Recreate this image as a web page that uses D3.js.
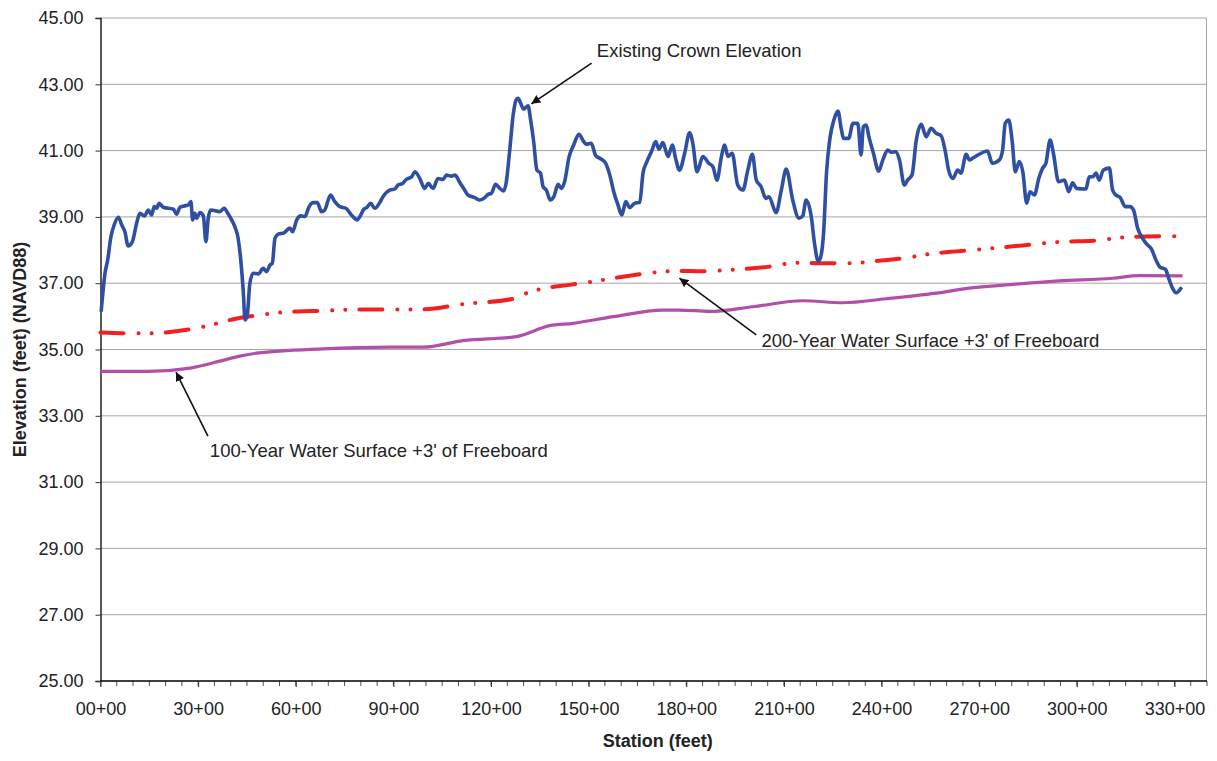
<!DOCTYPE html>
<meta charset="utf-8">
<style>
    body { margin: 0; background: #fff; }
    svg { display: block; font-family: "Liberation Sans", Arial, sans-serif; }
    .grid line { stroke: #a6a6a6; stroke-width: 1px; }
    .tick text { font-size: 18px; fill: #222; }
    .axis-title { font-size: 18px; font-weight: bold; fill: #222; }
    .note { font-size: 18.5px; fill: #222; }
</style>
<body>
<script src="https://cdn.jsdelivr.net/npm/d3@7"></script>
<script>
// station in hundreds of feet (NN+00), elevation in feet NAVD88
var crownStation = [0.2, 1.4, 2.2, 3.2, 4.2, 5.5, 6.5, 7.5, 8.5, 9.8, 11.1, 12.1, 13.5, 14.7, 15.7, 16.5, 17.3, 18.0, 19.3, 22.4,
    23.4, 24.4, 25.7, 27.0, 27.8, 28.3, 29.0, 29.5, 30.6, 31.6, 32.4, 33.1, 33.9, 36.7, 38.0, 39.1, 40.3, 41.3, 42.3, 43.1,
    43.9, 44.4, 45.1, 45.9, 46.9, 48.5, 50.0, 51.0, 52.1, 52.8, 53.6, 54.6, 56.4, 58.2, 59.0, 60.3, 61.5, 62.8, 64.1, 65.3,
    66.6, 67.9, 68.9, 70.7, 72.0, 73.5, 75.4, 77.1, 78.9, 79.7, 80.9, 81.9, 83.0, 84.3, 85.8, 86.8, 88.9, 90.4, 91.4, 92.8,
    94.0, 95.6, 96.6, 98.1, 99.6, 100.7, 102.2, 103.7, 105.3, 106.3, 107.8, 108.9, 110.4, 111.9, 112.9, 115.0, 116.5, 118.1, 119.1, 120.1,
    121.4, 122.7, 123.9, 124.7, 125.7, 126.8, 127.6, 128.3, 129.1, 130.0, 130.9, 131.4, 132.1, 133.1, 134.1, 135.2, 136.0, 137.0, 138.2, 139.3,
    140.6, 141.6, 142.6, 144.0, 145.4, 147.0, 148.5, 149.3, 150.8, 152.2, 153.4, 155.2, 156.5, 157.7, 159.0, 160.2, 161.4, 162.6, 164.1, 165.7,
    166.7, 167.9, 169.3, 170.6, 171.6, 172.8, 174.4, 175.7, 176.7, 177.9, 179.5, 181.0, 182.0, 183.3, 185.1, 186.9, 188.2, 189.4, 190.8, 191.8,
    192.8, 194.1, 195.8, 197.4, 198.9, 200.3, 201.5, 203.0, 204.4, 205.4, 207.6, 209.2, 210.7, 212.7, 214.6, 215.8, 216.8, 218.4, 219.4, 220.5,
    221.2, 222.2, 223.1, 224.0, 225.5, 226.6, 227.6, 228.3, 229.9, 231.2, 232.7, 233.7, 234.4, 235.3, 236.1, 237.5, 239.1, 240.4, 241.9, 243.0,
    244.3, 245.5, 247.0, 248.0, 249.4, 250.6, 252.2, 253.7, 255.2, 256.8, 258.3, 259.6, 260.6, 261.9, 263.4, 264.4, 266.0, 267.0, 268.0, 272.6,
    274.0, 276.2, 277.2, 278.0, 279.1, 280.1, 281.1, 282.3, 283.4, 284.6, 285.6, 287.0, 288.3, 289.5, 290.5, 291.8, 292.8, 294.4, 296.2, 297.5,
    298.7, 299.9, 302.8, 303.8, 304.9, 305.9, 306.9, 308.1, 310.0, 311.0, 312.0, 313.3, 314.9, 316.3, 317.4, 318.7, 320.2, 321.3, 323.1, 324.3,
    325.6, 327.2, 328.4, 329.4, 330.5, 332.2];
var crownElev = [36.14, 37.31, 37.70, 38.40, 38.76, 38.99, 38.76, 38.55, 38.12, 38.25, 38.81, 39.11, 39.03, 39.21, 39.06, 39.31, 39.26, 39.41, 39.29, 39.23,
    39.08, 39.29, 39.33, 39.36, 39.46, 38.91, 39.11, 38.96, 39.13, 39.03, 38.25, 38.96, 39.21, 39.16, 39.26, 39.11, 38.91, 38.70, 38.35, 37.70,
    36.70, 35.89, 36.04, 37.00, 37.30, 37.28, 37.45, 37.35, 37.55, 37.60, 38.35, 38.48, 38.52, 38.66, 38.55, 38.91, 39.03, 39.01, 39.31, 39.43,
    39.43, 39.16, 39.21, 39.66, 39.46, 39.31, 39.26, 39.06, 38.91, 39.01, 39.23, 39.29, 39.41, 39.26, 39.43, 39.61, 39.81, 39.84, 39.96, 40.01,
    40.13, 40.21, 40.36, 40.16, 39.86, 40.01, 39.86, 40.16, 40.13, 40.26, 40.23, 40.26, 40.04, 39.81, 39.66, 39.58, 39.51, 39.58, 39.68, 39.71,
    39.98, 39.86, 39.78, 40.06, 40.97, 42.07, 42.50, 42.58, 42.43, 42.25, 42.32, 42.35, 41.97, 41.27, 40.41, 40.32, 39.91, 39.81, 39.51, 39.61,
    39.98, 39.86, 40.06, 40.82, 41.17, 41.49, 41.27, 41.19, 41.22, 40.84, 40.77, 40.62, 40.26, 39.76, 39.36, 39.06, 39.46, 39.28, 39.41, 39.44,
    40.32, 40.67, 40.97, 41.27, 41.04, 41.24, 40.82, 41.17, 40.77, 40.41, 40.92, 41.54, 41.22, 40.36, 40.82, 40.62, 40.51, 40.11, 40.82, 41.17,
    40.82, 40.92, 39.96, 39.81, 40.41, 40.89, 40.11, 39.91, 39.56, 39.61, 39.13, 39.81, 40.44, 39.51, 38.96, 39.03, 39.51, 39.01, 38.20, 37.67,
    37.76, 38.54, 40.35, 41.27, 41.97, 42.19, 41.67, 41.37, 41.37, 41.82, 41.82, 40.87, 41.72, 41.77, 41.42, 40.92, 40.38, 40.72, 41.02, 40.95,
    40.97, 40.72, 39.96, 40.11, 40.28, 41.27, 41.79, 41.42, 41.67, 41.52, 41.45, 40.97, 40.41, 40.16, 40.41, 40.32, 40.89, 40.72, 40.77, 40.99,
    40.62, 40.72, 41.02, 41.82, 41.92, 41.32, 40.36, 40.67, 40.36, 39.41, 39.76, 39.66, 40.16, 40.47, 40.62, 41.32, 40.92, 40.06, 40.11, 39.76,
    40.03, 39.86, 39.84, 40.21, 40.21, 40.32, 40.11, 40.41, 40.47, 39.81, 39.66, 39.59, 39.31, 39.31, 39.21, 38.66, 38.35, 38.20, 38.00, 37.70,
    37.48, 37.42, 37.10, 36.85, 36.71, 36.88];

var ws200Station = [0, 7.0, 15.2, 27.5, 32.6, 40.8, 49.0, 57.2, 68.4, 78.7, 88.9, 99.1, 111.4, 126.8, 130.9, 135.0, 144.2, 151.3, 159.5, 171.8,
    176.9, 185.1, 193.3, 205.6, 213.8, 221.9, 230.1, 238.3, 248.6, 254.7, 262.9, 268.0, 283.4, 295.6, 304.9, 317.1, 332.0];
var ws200Elev = [35.51, 35.49, 35.49, 35.61, 35.71, 35.91, 36.04, 36.13, 36.17, 36.21, 36.21, 36.21, 36.37, 36.53, 36.70, 36.82, 36.95, 37.05, 37.18, 37.34,
    37.37, 37.36, 37.40, 37.50, 37.62, 37.60, 37.60, 37.67, 37.78, 37.88, 37.96, 38.00, 38.14, 38.25, 38.28, 38.40, 38.42];

var ws100Station = [0, 14.6, 27.5, 36.7, 42.8, 48.0, 68.4, 88.9, 99.1, 111.4, 127.8, 138.0, 145.2, 157.5, 172.8, 177.9, 187.2, 200.4, 215.8, 228.1,
    241.4, 256.8, 267.0, 282.3, 294.6, 311.0, 319.2, 332.5];
var ws100Elev = [34.34, 34.34, 34.44, 34.65, 34.80, 34.89, 35.02, 35.07, 35.07, 35.27, 35.39, 35.72, 35.79, 35.99, 36.19, 36.19, 36.15, 36.29, 36.47, 36.41,
    36.53, 36.70, 36.85, 36.98, 37.07, 37.15, 37.23, 37.22];

var yTicks = [25, 27, 29, 31, 33, 35, 37, 39, 41, 43, 45];
var xTicks = [0, 30, 60, 90, 120, 150, 180, 210, 240, 270, 300, 330];

var width = 1217, height = 761;
var plotL = 100.5, plotT = 18, plotR = 1207, plotB = 681;

var x = d3.scaleLinear().domain([0, 340]).range([plotL, plotR]);
var y = d3.scaleLinear().domain([25, 45]).range([plotB, plotT]);

var svg = d3.select("body").append("svg")
    .attr("width", width)
    .attr("height", height);

// gridlines
svg.append("g").attr("class", "grid")
    .selectAll("line").data(yTicks.slice(1)).enter().append("line")
    .attr("x1", plotL).attr("x2", plotR)
    .attr("y1", function(d) { return y(d); }).attr("y2", function(d) { return y(d); });

svg.append("line")
    .attr("x1", plotR - 0.5).attr("x2", plotR - 0.5)
    .attr("y1", plotT).attr("y2", plotB)
    .attr("stroke", "#a6a6a6");

// y axis
var yAxis = d3.axisLeft(y).tickValues(yTicks).tickSize(5).tickPadding(12)
    .tickFormat(function(d) { return d.toFixed(2); });
var gy = svg.append("g").attr("transform", "translate(" + plotL + ",0)").call(yAxis);
gy.select(".domain").attr("stroke", "#000").attr("stroke-width", 1.3);
gy.selectAll(".tick line").attr("stroke", "#333");

// x axis, minor ticks first
var minor = d3.range(0, 341, 5);
svg.append("g").selectAll("line").data(minor).enter().append("line")
    .attr("x1", function(d) { return x(d); }).attr("x2", function(d) { return x(d); })
    .attr("y1", plotB).attr("y2", plotB + 5)
    .attr("stroke", "#555");

var xAxis = d3.axisBottom(x).tickValues(xTicks).tickSize(6).tickPadding(15)
    .tickFormat(function(d) { return (d < 10 ? "0" + d : d) + "+00"; });
var gx = svg.append("g").attr("transform", "translate(0," + plotB + ")").call(xAxis);
gx.select(".domain").attr("stroke", "#000").attr("stroke-width", 1.3).attr("d", "M" + plotL + ",0H" + plotR);
gx.selectAll(".tick line").attr("stroke", "#333");

// axis titles
svg.append("text").attr("class", "axis-title")
    .attr("x", (plotL + plotR) / 2 + 4).attr("y", 747)
    .attr("text-anchor", "middle").text("Station (feet)");
svg.append("text").attr("class", "axis-title")
    .attr("transform", "translate(26," + (plotT + plotB) / 2 + ") rotate(-90)")
    .attr("text-anchor", "middle").text("Elevation (feet) (NAVD88)");

// series
function series(st, el) {
    return st.map(function(s, i) { return [s, el[i]]; });
}
var line = d3.line()
    .x(function(d) { return x(d[0]); })
    .y(function(d) { return y(d[1]); })
    .curve(d3.curveMonotoneX);

svg.append("path").datum(series(ws100Station, ws100Elev))
    .attr("fill", "none").attr("stroke", "#b24fa8").attr("stroke-width", 3.2)
    .attr("d", line);

svg.append("path").datum(series(ws200Station, ws200Elev))
    .attr("fill", "none").attr("stroke", "#f42020").attr("stroke-width", 4)
    .attr("stroke-linecap", "round")
    .attr("stroke-dasharray", "23,15,0.1,13,0.1,14")
    .attr("d", line);

svg.append("path").datum(series(crownStation, crownElev))
    .attr("fill", "none").attr("stroke", "#2f50a2").attr("stroke-width", 3.6)
    .attr("stroke-linejoin", "round")
    .attr("d", line);

// annotations
svg.append("defs").append("marker")
    .attr("id", "head").attr("viewBox", "0 0 10 10")
    .attr("refX", 10).attr("refY", 5)
    .attr("markerWidth", 9).attr("markerHeight", 9)
    .attr("markerUnits", "userSpaceOnUse")
    .attr("orient", "auto")
    .append("path").attr("d", "M0,0L10,5L0,10z").attr("fill", "#111");

var notes = [
    { text: "Existing Crown Elevation", tx: 152.5, ty: 43.82, from: [150.9, 43.64], to: [132.4, 42.41] },
    { text: "200-Year Water Surface +3' of Freeboard", tx: 203.1, ty: 35.08, from: [201.5, 35.44], to: [177.9, 37.15] },
    { text: "100-Year Water Surface +3' of Freeboard", tx: 33.6, ty: 31.76, from: [33.0, 32.39], to: [23.2, 34.32] }
];

notes.forEach(function(n) {
    svg.append("line")
        .attr("x1", x(n.from[0])).attr("y1", y(n.from[1]))
        .attr("x2", x(n.to[0])).attr("y2", y(n.to[1]))
        .attr("stroke", "#111").attr("stroke-width", 1.6)
        .attr("marker-end", "url(#head)");
    svg.append("text").attr("class", "note")
        .attr("x", x(n.tx)).attr("y", y(n.ty))
        .text(n.text);
});
</script>
</body>
</html>
